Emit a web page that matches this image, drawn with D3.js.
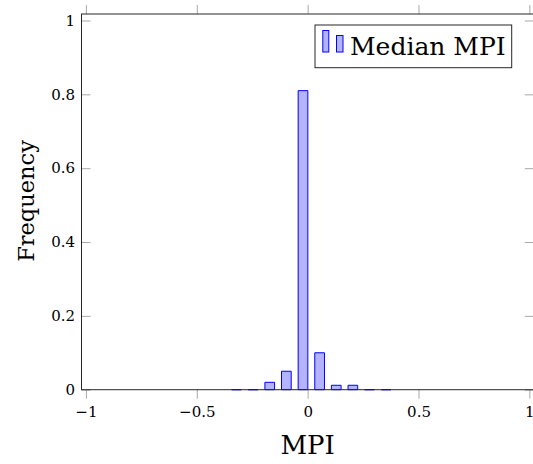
<!DOCTYPE html>
<html>
<head>
<meta charset="utf-8">
<script src="https://cdn.jsdelivr.net/npm/d3@7"></script>
<style>
  body { margin: 0; background: #fff; }
  svg { display: block; }
</style>
</head>
<body>
<svg id="chart" width="533" height="464"></svg>
<script>
// ---- data ----
const binCenters = [-0.321, -0.246, -0.171, -0.096, -0.021, 0.054, 0.129, 0.204, 0.279, 0.354];
const frequencies = [0, 0, 0.02, 0.05, 0.81, 0.10, 0.012, 0.012, 0, 0];
const xTicks = [-1, -0.5, 0, 0.5, 1];
const yTicks = [0, 0.2, 0.4, 0.6, 0.8, 1];
const xTickLabels = ["\u22121", "\u22120.5", "0", "0.5", "1"];
const yTickLabels = ["0", "0.2", "0.4", "0.6", "0.8", "1"];
const xLabel = "MPI";
const yLabel = "Frequency";
const seriesName = "Median MPI";

(function () {
// ---- layout ----
const FONT = "'DejaVu Serif', serif";
const svg = d3.select("#chart").attr("font-family", FONT);
const pLeft = 81.5, pRight = 533.8, pTop = 14, pBottom = 389.7;
const x = d3.scaleLinear().domain([-1.02, 1.02]).range([pLeft, pRight]);
const y = d3.scaleLinear().domain([0, 1.0176]).range([pBottom, pTop]);
const tickColor = "#a8a8a8";
const frameColor = "#262626";
const barFill = "#b3b3ff";
const barStroke = "#0000ff";
const barW = 9.7;

// bars
const barG = svg.append("g");
barG.selectAll("path").data(binCenters.map((c, i) => ({c, v: frequencies[i]})))
  .enter().append("path")
  .attr("d", d => {
    const x0 = x(d.c) - barW / 2, x1 = x(d.c) + barW / 2;
    const y0 = y(0), y1 = y(d.v);
    const p = d3.path();
    p.moveTo(x0, y0); p.lineTo(x0, y1); p.lineTo(x1, y1); p.lineTo(x1, y0); p.closePath();
    return p.toString();
  })
  .attr("fill", barFill)
  .attr("stroke", barStroke).attr("stroke-width", 1);

// axes (ticks)
function styleAxis(g) {
  g.attr("font-family", FONT);
  g.select(".domain").remove();
  g.selectAll(".tick line").attr("stroke", tickColor).attr("stroke-width", 1);
  g.selectAll(".tick text").attr("font-family", FONT).attr("fill", "#000");
}
const xb = svg.append("g").attr("transform", `translate(0,${pBottom})`)
  .call(d3.axisBottom(x).tickValues(xTicks).tickSizeInner(9).tickSizeOuter(0)
    .tickPadding(7.5).tickFormat((d, i) => xTickLabels[i]));
styleAxis(xb);
xb.selectAll(".tick text").attr("font-size", 15).attr("dy", "0.71em");

const xt = svg.append("g").attr("transform", `translate(0,${pTop})`)
  .call(d3.axisTop(x).tickValues(xTicks).tickSizeInner(9).tickSizeOuter(0).tickFormat(""));
styleAxis(xt);

const yl = svg.append("g").attr("transform", `translate(${pLeft},0)`)
  .call(d3.axisLeft(y).tickValues(yTicks).tickSizeInner(-9).tickSizeOuter(0)
    .tickPadding(6.5).tickFormat((d, i) => yTickLabels[i]));
styleAxis(yl);
yl.selectAll(".tick text").attr("font-size", 15).attr("dy", "0.32em");

const yr = svg.append("g").attr("transform", `translate(${pRight},0)`)
  .call(d3.axisRight(y).tickValues(yTicks).tickSizeInner(-9).tickSizeOuter(0).tickFormat(""));
styleAxis(yr);

// frame
svg.append("rect").attr("x", pLeft).attr("y", pTop)
  .attr("width", pRight - pLeft).attr("height", pBottom - pTop)
  .attr("fill", "none").attr("stroke", frameColor).attr("stroke-width", 1);

// axis labels
svg.append("text").attr("x", (pLeft + pRight) / 2).attr("y", 454)
  .attr("font-family", FONT).attr("text-anchor", "middle").attr("font-size", 26).text(xLabel);
svg.append("text").attr("transform", "translate(34,201) rotate(-90)")
  .attr("font-family", FONT).attr("text-anchor", "middle").attr("font-size", 22.5).text(yLabel);

// legend
const lg = svg.append("g");
lg.append("rect").attr("x", 315).attr("y", 25).attr("width", 196.7).attr("height", 42.7)
  .attr("fill", "#fff").attr("stroke", frameColor).attr("stroke-width", 1);
lg.append("rect").attr("x", 322.8).attr("y", 30.5).attr("width", 6).attr("height", 21.5)
  .attr("fill", barFill).attr("stroke", barStroke).attr("stroke-width", 1);
lg.append("rect").attr("x", 336.5).attr("y", 35.5).attr("width", 6.5).attr("height", 16.5)
  .attr("fill", barFill).attr("stroke", barStroke).attr("stroke-width", 1);
lg.append("text").attr("x", 350).attr("y", 55).attr("font-family", FONT)
  .attr("font-size", 25).text(seriesName);
})();
</script>
</body>
</html>
